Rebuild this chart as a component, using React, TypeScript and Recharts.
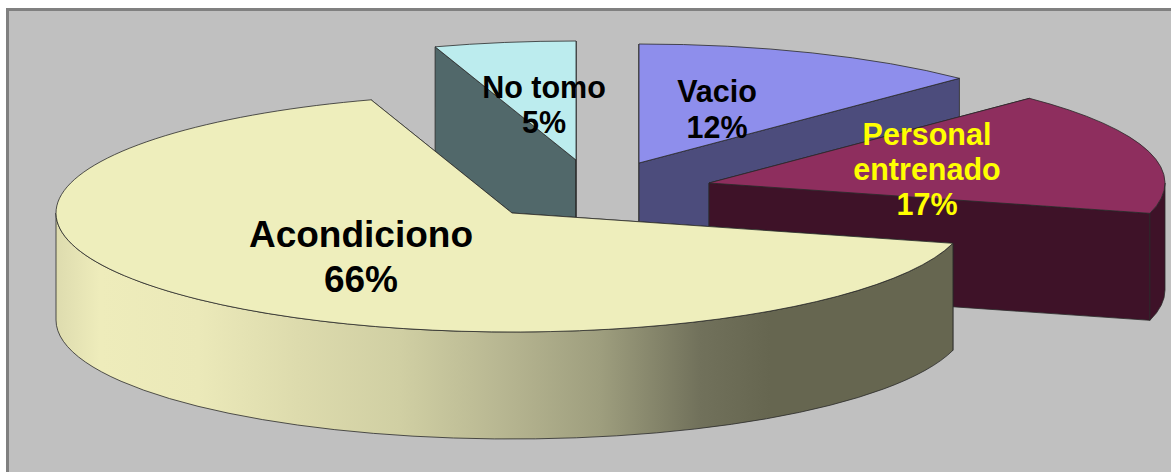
import { Pie, PieChart } from "recharts"


const categories = ["No tomo", "Vacio", "Personal entrenado", "Acondiciono"]
const shares = [5, 12.4, 16.7, 65.9]

const chartData = categories.map((name, i) => ({ name, value: shares[i] }))


// look of every slice: top colour, wall colour, how far it is pulled out of the pie
const SLICE_STYLES: Record<string, any> = {
	"No tomo": { top: "#bcecee", wall: "#51686a", dx: 64, dy: -53 },
	"Vacio": { top: "#8e8eec", wall: "#4c4c7c", dx: 127, dy: -50 },
	"Personal entrenado": { top: "#8e2e5e", wall: "#3e1228", dx: 197, dy: -30 },
	"Acondiciono": { top: "#eeeebc", wall: "url(#wallShade)", dx: 0, dy: 0 },
}

const LABEL_STYLES: Record<string, any> = {
	"No tomo": { x: 544, y: 98, size: 30.5, step: 35, color: "#000000", lines: ["No tomo"] },
	"Vacio": { x: 717, y: 102, size: 30.5, step: 36, color: "#000000", lines: ["Vacio"] },
	"Personal entrenado": { x: 927, y: 145, size: 30.5, step: 35, color: "#ffff00", lines: ["Personal", "entrenado"] },
	"Acondiciono": { x: 361, y: 247, size: 37, step: 45, color: "#000000", lines: ["Acondiciono"] },
}

const Y_SQUASH = 119 / 456
const DEPTH = 107
const EDGE = "#2a2a2a"


function Slice3D(props: any) {
	const { cx, cy, outerRadius, startAngle, endAngle, name, payload } = props
	const style = SLICE_STYLES[name ?? payload?.name]

	const rx = outerRadius
	const ry = outerRadius * Y_SQUASH
	const ax = cx + style.dx
	const ay = cy + style.dy

	const at = (deg: number): [number, number] => {
		const r = (deg * Math.PI) / 180
		return [ax + rx * Math.cos(r), ay - ry * Math.sin(r)]
	}

	const [sx, sy] = at(startAngle)
	const [ex, ey] = at(endAngle)
	const large = Math.abs(startAngle - endAngle) > 180 ? 1 : 0

	const topPath = `M${ax},${ay} L${sx},${sy} A${rx},${ry} 0 ${large} 1 ${ex},${ey} Z`

	const sideWall = ([x, y]: [number, number]) =>
		`M${ax},${ay} L${x},${y} L${x},${y + DEPTH} L${ax},${ay + DEPTH} Z`

	// only the front half of the rim can be seen
	const hi = Math.min(startAngle, 0)
	const lo = Math.max(endAngle, -180)
	let rimPath = null
	if (hi > lo) {
		const [hx, hy] = at(hi)
		const [lx, ly] = at(lo)
		rimPath = `M${hx},${hy} A${rx},${ry} 0 0 1 ${lx},${ly} L${lx},${ly + DEPTH} A${rx},${ry} 0 0 0 ${hx},${hy + DEPTH} Z`
	}

	return (
		<g>
			<defs>
				<linearGradient id="wallShade" gradientUnits="userSpaceOnUse" x1={55} y1={0} x2={953} y2={0}>
					<stop offset="0" stopColor="#dddbae" />
					<stop offset="0.05" stopColor="#eeecbb" />
					<stop offset="0.16" stopColor="#ebe9b9" />
					<stop offset="0.27" stopColor="#dddbad" />
					<stop offset="0.384" stopColor="#d0cfa3" />
					<stop offset="0.495" stopColor="#b8b792" />
					<stop offset="0.607" stopColor="#9e9e7e" />
					<stop offset="0.718" stopColor="#71715b" />
					<stop offset="0.796" stopColor="#666650" />
					<stop offset="1" stopColor="#666650" />
				</linearGradient>
			</defs>

			<path d={sideWall([sx, sy])} fill={style.wall} stroke={EDGE} strokeWidth={0.8} />
			<path d={sideWall([ex, ey])} fill={style.wall} stroke={EDGE} strokeWidth={0.8} />

			{rimPath && <path d={rimPath} fill={style.wall} stroke={EDGE} strokeWidth={0.8} />}

			<path d={topPath} fill={style.top} stroke={EDGE} strokeWidth={0.8} />
		</g>
	)
}


function SliceLabel(props: any) {
	const label = LABEL_STYLES[props.name ?? props.payload?.name]
	const rows = [...label.lines, `${Math.round(props.percent * 100)}%`]

	return (
		<text
			textAnchor="middle"
			fontFamily="'Liberation Sans', Arial, sans-serif"
			fontWeight="bold"
			fontSize={label.size}
			fill={label.color}
		>
			{rows.map((row: string, i: number) => (
				<tspan key={row} x={label.x} y={label.y + i * label.step}>{row}</tspan>
			))}
		</text>
	)
}


export default function App() {
	return (
		<div style={{ position: "absolute", left: 0, top: 0, width: 1171, height: 472, background: "#ffffff", overflow: "hidden" }}>

			<div
				style={{
					position: "absolute",
					left: 6,
					top: 8,
					width: 1165,
					height: 464,
					boxSizing: "border-box",
					background: "#c0c0c0",
					borderLeft: "3px solid #808080",
					borderTop: "3px solid #808080",
				}}
			/>

			<div style={{ position: "absolute", left: 0, top: 0 }}>
				<PieChart width={1171} height={472} margin={{ top: 0, right: 0, bottom: 0, left: 0 }}>
					<Pie
						data={chartData}
						dataKey="value"
						nameKey="name"
						cx={512}
						cy={213}
						innerRadius={0}
						outerRadius={456}
						startAngle={108}
						endAngle={-252}
						stroke="none"
						shape={Slice3D}
						activeShape={Slice3D}
						label={SliceLabel}
						labelLine={false}
						isAnimationActive={false}
					/>
				</PieChart>
			</div>

		</div>
	)
}
